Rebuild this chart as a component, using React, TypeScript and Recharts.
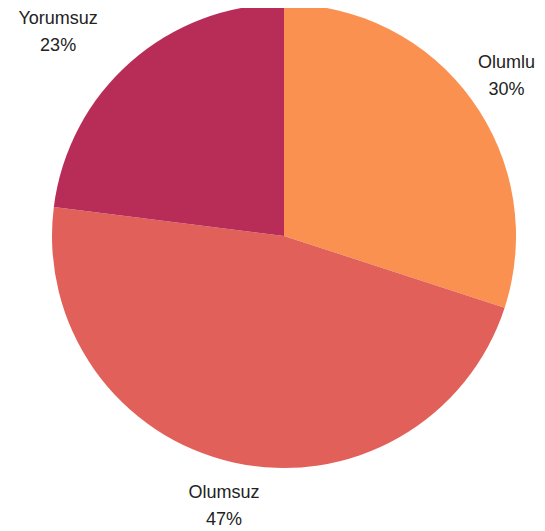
import React from "react";
import { PieChart, Pie, Cell } from "recharts";

const labels = ["Olumlu", "Olumsuz", "Yorumsuz"];
const values = [30, 47, 23];
const colors = ["#FA9150", "#E2605A", "#B72D58"];

const data = labels.map((name, i) => ({ name, value: values[i] }));

const RADIAN = Math.PI / 180;

// labels sit a bit outside the pie; Yorumsuz is pushed left like in the original
const nudge: Record<string, number> = { Yorumsuz: -44 };

function renderLabel(props: any) {
  const { cx, cy, midAngle, outerRadius, name, percent } = props;
  const r = outerRadius + 43;
  const x = cx + r * Math.cos(-midAngle * RADIAN) + (nudge[name] || 0);
  const y = cy + r * Math.sin(-midAngle * RADIAN);
  return (
    <text
      x={x}
      y={y}
      textAnchor="middle"
      fill="#222"
      fontSize={18}
      fontFamily="'Liberation Sans', Arial, sans-serif"
    >
      <tspan x={x} dy={-6}>
        {name}
      </tspan>
      <tspan x={x} dy={27}>
        {Math.round(percent * 100)}%
      </tspan>
    </text>
  );
}

export default function App() {
  return (
    <PieChart
      width={537}
      height={523}
      margin={{ top: 0, right: 0, bottom: 0, left: 0 }}
    >
      <Pie
        data={data}
        dataKey="value"
        nameKey="name"
        cx={276}
        cy={228}
        outerRadius={232}
        startAngle={90}
        endAngle={-270}
        stroke="none"
        label={renderLabel}
        labelLine={false}
        isAnimationActive={false}
      >
        {data.map((d, i) => (
          <Cell key={d.name} fill={colors[i]} />
        ))}
      </Pie>
    </PieChart>
  );
}
